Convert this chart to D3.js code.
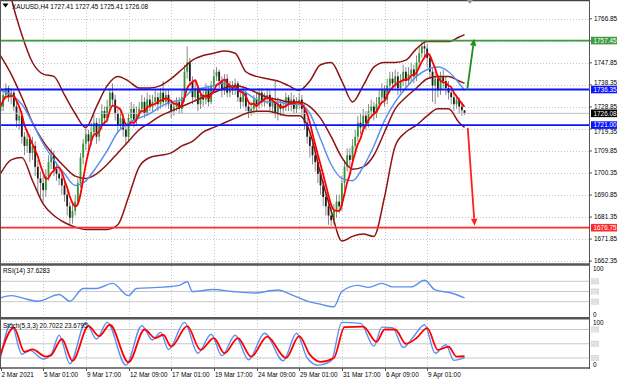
<!DOCTYPE html>
<html><head><meta charset="utf-8">
<script src="https://cdn.jsdelivr.net/npm/d3@7"></script>
<style>
body{margin:0;background:#fff}
svg{display:block}
text{font-family:"Liberation Sans",Arial,sans-serif;font-size:6.4px;fill:#000}
</style></head>
<body><svg id="c" width="620" height="383"></svg>
<script>
// ---------------- DATA ----------------
const symbolTitle = "XAUUSD,H4 1727.41 1727.45 1725.41 1726.08";
const rsiTitle = "RSI(14) 37.6283";
const stochTitle = "Stoch(5,3,3) 20.7022 23.6795";
const firstOpen = 1727;
const closes = [
1729,1734,1737,1733,
1735,1729,1723,1725,1716,1712,
1715,1709,1712,1703,1698,1696,
1693,1699,1705,1708,1702,1700,
1698,1695,1691,1686,1681,1684,
1688,1696,1707,1713,1717,1714,
1718,1722,1716,1721,1727,1724,
1729,1735,1732,1726,1721,1724,
1719,1716,1724,1728,1723,1726,
1728,1731,1726,1732,1729,1731,
1733,1730,1735,1731,1734,1730,
1727,1729,1731,1728,1733,1744,
1748,1740,1733,1737,1730,1734,
1732,1736,1731,1738,1742,1744,
1740,1736,1741,1735,1738,1736,
1739,1733,1731,1735,1729,1727,
1728,1732,1730,1735,1731,1733,
1734,1729,1731,1726,1730,1728,
1729,1733,1730,1732,1728,1731,
1732,1728,1722,1716,1712,1708,
1705,1700,1695,1690,1686,1682,
1680,1684,1688,1686,1696,1703,
1708,1706,1712,1716,1722,1720,
1725,1722,1727,1729,1726,1730,
1733,1736,1732,1738,1741,1739,
1742,1737,1740,1744,1740,1743,
1745,1742,1748,1752,1755,1754,
1750,1744,1738,1741,1736,1742,
1740,1737,1735,1733,1730,1732,
1729,1727.41,1726.08];
const highs = [
1733,1736,1739,1738,
1737,1736,1731,1728,1727,1718,
1719,1717,1716,1714,1706,1701,
1699,1702,1708,1711,1710,1705,
1703,1700,1697,1693,1688,1687,
1691,1698,1709,1715,1720,1719,
1722,1726,1724,1724,1730,1729,
1732,1737,1739,1734,1728,1727,
1726,1722,1726,1731,1730,1729,
1731,1734,1733,1735,1734,1734,
1736,1735,1737,1740,1736,1736,
1732,1731,1733,1733,1736,1747,
1755,1750,1742,1740,1738,1737,
1737,1739,1738,1740,1745,1746,
1745,1742,1743,1743,1740,1740,
1741,1740,1735,1737,1736,1731,
1731,1734,1735,1737,1737,1735,
1737,1736,1733,1740,1733,1732,
1732,1735,1734,1735,1734,1733,
1735,1734,1730,1724,1718,1714,
1711,1708,1702,1697,1692,1689,
1685,1687,1691,1691,1699,1706,
1711,1711,1715,1719,1725,1726,
1728,1727,1730,1732,1731,1733,
1736,1739,1738,1741,1744,1744,
1745,1744,1743,1747,1746,1746,
1748,1747,1751,1755,1757.8,1757.5,
1756,1752,1746,1744,1743,1744,
1745,1742,1740,1737,1735,1734,
1733,1731,1727.45];
const lows = [
1724,1727,1732,1731,
1730,1727,1720,1719,1713,1708,
1709,1705,1706,1699,1692,1690,
1688,1690,1697,1702,1699,1697,
1695,1691,1688,1682,1678,1678.5,
1682,1686,1694,1704,1710,1710,
1712,1716,1713,1714,1719,1721,
1722,1727,1729,1723,1718,1719,
1716,1713,1714,1722,1720,1721,
1724,1726,1724,1725,1727,1727,
1729,1727,1728,1729,1729,1728,
1724,1725,1727,1726,1726,1731,
1741,1738,1730,1731,1727,1728,
1729,1730,1729,1730,1736,1740,
1737,1733,1734,1733,1733,1734,
1734,1731,1728,1729,1727,1724,
1725,1726,1727,1728,1729,1729,
1730,1727,1726,1724,1723,1725,
1725,1727,1727,1727,1726,1726,
1728,1725,1719,1713,1707,1704,
1701,1696,1691,1686,1682,1678,
1677.5,1678,1681,1683,1684,1693,
1701,1703,1704,1710,1714,1717,
1718,1719,1720,1724,1723,1724,
1728,1731,1729,1730,1735,1736,
1737,1734,1735,1738,1737,1738,
1740,1739,1740,1746,1750,1750,
1746,1741,1731,1730,1733,1734,
1737,1734,1732,1730,1727,1728,
1726,1725,1725.41];

// indicator knots (bar index -> value)
const knotIdx = [0,4,8,12,16,20,24,28,32,36,40,44,48,52,56,60,64,68,72,76,80,84,88,92,96,100,104,108,112,116,120,124,128,132,136,140,144,148,152,156,160,164,168,172,174];
const bbUpper = [1800,1776,1760,1748,1743,1742,1734,1726,1720,1729,1738,1742,1740,1737,1737,1738,1741,1745,1749,1751,1752,1753,1752,1744,1742,1741,1740,1738,1736,1740,1747,1748,1740,1731,1738,1746,1748,1748,1749,1754,1757,1757,1757,1759,1760];
const bbMiddle = [1751,1743,1733,1722,1714,1708,1703,1699,1698,1700,1704,1709,1714,1719,1722,1725,1727,1729,1731,1733,1735,1737,1738,1737,1735,1733,1732,1731,1731,1729,1724,1716,1707,1702,1703,1708,1718,1728,1733,1737,1741,1742,1742,1740,1739];
const bbLower = [1700,1706,1707,1697,1687,1682,1679,1677,1676,1676,1676,1678,1690,1703,1707,1708,1709,1712,1714,1718,1720,1722,1724,1726,1727,1727,1726,1725,1725,1718,1700,1684,1671,1673,1674,1673,1690,1712,1718,1721,1725,1728,1728,1722,1720];
const maSlow = [1736,1734,1730,1722,1713,1706,1700,1695,1697,1703,1710,1718,1722,1724,1726,1729,1731,1732,1736,1737,1738,1739,1737,1735,1732,1731,1731,1730,1730,1726,1715,1704,1698,1697,1703,1712,1723,1731,1737,1742,1745,1746,1744,1739,1736];
const maFastPeriod = 5;

const rsiPts = [[0,37.5],[4,42],[8,37.5],[14,31],[22,44],[26,31],[31,56],[36,56],[42,66],[48,42],[51,56],[59,58],[67,62],[70,69],[72,50],[80,54],[87,50],[95,47],[104,53],[109,44],[115,31],[120,25],[125,20],[128,50],[134,62],[138,58],[143,66],[147,59],[154,59],[159,72],[163,53],[169,47],[174,37.63]];
const stochD = [[0,27],[5,84],[9,33],[12,38],[17,23],[19,26],[23,60],[27,14],[33,87],[37,66],[41,90],[48,11],[54,80],[58,62],[61,69],[64,44],[70,87],[75,37],[80,62],[84,30],[89,62],[94,23],[100,65],[107,20],[112,66],[116,27],[120,12],[125,20],[129,85],[136,86],[141,54],[144,80],[148,80],[152,50],[156,62],[160,83],[164,37],[168,44],[171,23],[174,23.68]];
const stochK = [[0,20],[4,93],[8,28],[11,36],[16,18],[19,28],[22,68],[26,8],[32,95],[36,60],[40,95],[47,5],[53,88],[57,58],[60,74],[63,38],[69,95],[74,30],[79,70],[83,25],[88,68],[93,16],[99,72],[106,14],[111,72],[115,20],[119,5],[124,14],[128,95],[135,93],[140,45],[143,85],[147,84],[151,42],[155,66],[159,90],[163,30],[167,48],[170,15],[174,20.70]];

const priceTicks = [1766.85,1757.35,1747.85,1738.35,1728.85,1719.35,1709.85,1700.35,1690.85,1681.35,1671.85,1662.35];
const timeLabels = ["2 Mar 2021","5 Mar 01:00","9 Mar 17:00","12 Mar 09:00","17 Mar 01:00","19 Mar 17:00","24 Mar 09:00","29 Mar 01:00","31 Mar 17:00","6 Apr 09:00","9 Apr 01:00"];
const timeLabelIdx = [0,16,32,48,64,80,96,112,128,144,160];
const levels = [{p:1757.45,c:"#3e9b3e"},{p:1736.35,c:"#0a14ff"},{p:1721.00,c:"#0a14ff"},{p:1676.75,c:"#ff2b2b"}];
const bidPrice = 1726.08;
const arrows = [{i0:175,p0:1736.3,i1:177.6,p1:1758.2,c:"#1f8f1f"},{i0:175.2,p0:1719.8,i1:177.8,p1:1677.6,c:"#ff2020"}];
const rsiLevels=[70,50,30], stochLevels=[80,50,20];

// ---------------- DRAW ----------------
const svg = d3.select("#c");
const plotR = 589;
const x = d3.scaleLinear().domain([0,160]).range([0.5,427.2]);
const yP = d3.scaleLinear().domain([1676.75,1736.35]).range([227.7,89.5]);
const yR = d3.scaleLinear().domain([0,100]).range([317,266]);
const yS = d3.scaleLinear().domain([0,100]).range([367.5,320]);

svg.append("rect").attr("width",620).attr("height",383).attr("fill","#fff");
const defs = svg.append("defs");
[["cm",0,1,plotR,263],["cr",0,266,plotR,51],["cs",0,320,plotR,47.5]].forEach(([id,a,b,w,h])=>{
  defs.append("clipPath").attr("id",id).append("rect").attr("x",a).attr("y",b).attr("width",w).attr("height",h);
});

// grid
const grid = svg.append("g");
timeLabelIdx.slice(1).forEach(i=>{
  [[1,263],[266,317],[320,367]].forEach(([a,b])=>{
    grid.append("line").attr("x1",Math.round(x(i))+0.5).attr("x2",Math.round(x(i))+0.5).attr("y1",a).attr("y2",b)
      .attr("stroke","#c4c4c4").attr("stroke-dasharray","1,2");
  });
});
priceTicks.forEach(p=>{
  grid.append("line").attr("x1",0).attr("x2",plotR).attr("y1",Math.round(yP(p))+0.5).attr("y2",Math.round(yP(p))+0.5)
    .attr("stroke","#c4c4c4").attr("stroke-dasharray","1,2");
});
rsiLevels.forEach(v=>grid.append("line").attr("x1",0).attr("x2",plotR).attr("y1",yR(v)).attr("y2",yR(v)).attr("stroke","#c8c8c8"));
stochLevels.forEach(v=>grid.append("line").attr("x1",0).attr("x2",plotR).attr("y1",yS(v)).attr("y2",yS(v)).attr("stroke","#c8c8c8"));

// candles
const main = svg.append("g").attr("clip-path","url(#cm)");
const bars = closes.map((c,i)=>({i,o:i?closes[i-1]:firstOpen,c,h:highs[i],l:lows[i]}));
main.selectAll("line.w").data(bars).join("line").attr("class","w")
  .attr("x1",d=>x(d.i)).attr("x2",d=>x(d.i)).attr("y1",d=>yP(d.h)).attr("y2",d=>yP(d.l))
  .attr("stroke","#8a8a8a").attr("stroke-width",1);
main.selectAll("rect.b").data(bars).join("rect").attr("class","b")
  .attr("x",d=>x(d.i)-0.9).attr("width",1.8)
  .attr("y",d=>yP(Math.max(d.o,d.c))).attr("height",d=>Math.max(1,Math.abs(yP(d.o)-yP(d.c))))
  .attr("fill",d=>d.c>=d.o?"#2f9a2f":"#1e1e1e");

// bid line
main.append("line").attr("x1",0).attr("x2",plotR).attr("y1",yP(bidPrice)).attr("y2",yP(bidPrice)).attr("stroke","#c0c0c0");

// indicators
const lineK = d3.line().x(d=>x(d[0])).y(d=>yP(d[1])).curve(d3.curveMonotoneX);
[bbUpper,bbMiddle,bbLower].forEach(arr=>{
  main.append("path").attr("d",lineK(knotIdx.map((k,j)=>[k,arr[j]]))).attr("fill","none").attr("stroke","#8e1414").attr("stroke-width",1.5);
});
main.append("path").attr("d",lineK(knotIdx.map((k,j)=>[k,maSlow[j]]))).attr("fill","none").attr("stroke","#5b8ff0").attr("stroke-width",1.5);
const fast = closes.map((c,i)=>{const s=closes.slice(Math.max(0,i-maFastPeriod+1),i+1);return [i,d3.mean(s)];});
main.append("path").attr("d",lineK(fast)).attr("fill","none").attr("stroke","#ff0000").attr("stroke-width",1.8);

// horizontal levels
levels.forEach(l=>{
  main.append("line").attr("x1",0).attr("x2",plotR).attr("y1",yP(l.p)).attr("y2",yP(l.p)).attr("stroke",l.c).attr("stroke-width",1.8);
});

// arrows
arrows.forEach(a=>{
  const x0=x(a.i0),y0=yP(a.p0),x1=x(a.i1),y1=yP(a.p1);
  const ang=Math.atan2(y1-y0,x1-x0), L=7, Wd=3.2;
  const bx=x1-L*Math.cos(ang), by=y1-L*Math.sin(ang);
  main.append("line").attr("x1",x0).attr("y1",y0).attr("x2",bx).attr("y2",by).attr("stroke",a.c).attr("stroke-width",1.8);
  main.append("path").attr("d",`M${x1},${y1}L${bx+Wd*Math.sin(ang)},${by-Wd*Math.cos(ang)}L${bx-Wd*Math.sin(ang)},${by+Wd*Math.cos(ang)}Z`).attr("fill",a.c);
});

// RSI
const gr = svg.append("g").attr("clip-path","url(#cr)");
gr.append("path").attr("d",d3.line().x(d=>x(d[0])).y(d=>yR(d[1])).curve(d3.curveMonotoneX)(rsiPts))
  .attr("fill","none").attr("stroke","#5b8ff0").attr("stroke-width",1.4);
// Stoch
const gs = svg.append("g").attr("clip-path","url(#cs)");
const ls = d3.line().x(d=>x(d[0])).y(d=>yS(d[1])).curve(d3.curveMonotoneX);
gs.append("path").attr("d",ls(stochK)).attr("fill","none").attr("stroke","#5b8ff0").attr("stroke-width",1.4);
gs.append("path").attr("d",ls(stochD)).attr("fill","none").attr("stroke","#ff0000").attr("stroke-width",1.8);

// frames
const fr = svg.append("g");
fr.append("line").attr("x1",0).attr("x2",plotR).attr("y1",0.5).attr("y2",0.5).attr("stroke","#444").attr("stroke-width",1.5);
fr.append("line").attr("x1",0).attr("x2",plotR).attr("y1",264.5).attr("y2",264.5).attr("stroke","#555").attr("stroke-width",2.5);
fr.append("line").attr("x1",0).attr("x2",plotR).attr("y1",318.3).attr("y2",318.3).attr("stroke","#555").attr("stroke-width",2.5);
fr.append("line").attr("x1",0).attr("x2",plotR).attr("y1",368).attr("y2",368).attr("stroke","#555").attr("stroke-width",1.5);
fr.append("line").attr("x1",plotR+0.5).attr("x2",plotR+0.5).attr("y1",0).attr("y2",369).attr("stroke","#555").attr("stroke-width",1);
fr.append("line").attr("x1",0.5).attr("x2",0.5).attr("y1",0).attr("y2",369).attr("stroke","#555").attr("stroke-width",1);

// shift marker
fr.append("path").attr("d",`M${x(176)-3},0L${x(176)+3},0L${x(176)},4Z`).attr("fill","#999");

// price axis
const ax = svg.append("g");
const boxes = [...levels.map(l=>({p:l.p,c:l.c})),{p:bidPrice,c:"#000"}];
const boxH = 7.6;
priceTicks.forEach(p=>{
  ax.append("line").attr("x1",plotR).attr("x2",plotR+3).attr("y1",yP(p)).attr("y2",yP(p)).attr("stroke","#555");
  let base = yP(p)+2.3;
  let hidden = false;
  boxes.forEach(b=>{
    const yb = yP(b.p), top = yb-boxH/2, bot = yb+boxH/2;
    if (Math.abs(yb-yP(p))<1.5) hidden = true;
    else if (yP(p)<yb && base>top-0.3) base = top-0.3;
    else if (yP(p)>yb && base-4.6<bot+0.3) base = bot+0.3+4.6;
  });
  if(!hidden) ax.append("text").attr("x",594).attr("y",base).text(p.toFixed(2));
});
boxes.forEach(b=>{
  ax.append("rect").attr("x",591).attr("y",yP(b.p)-boxH/2).attr("width",26).attr("height",boxH).attr("fill",b.c);
  ax.append("text").attr("x",593.5).attr("y",yP(b.p)+2.3).style("fill","#fff").text(b.p.toFixed(2));
});
// rsi / stoch axis
[[yR,rsiLevels],[yS,stochLevels]].forEach(([s,lv])=>{
  ax.append("text").attr("x",593).attr("y",s(100)+5).text("100");
  ax.append("text").attr("x",593).attr("y",s(0)-0.5).text("0");
  lv.forEach(v=>{
    ax.append("rect").attr("x",591).attr("y",s(v)-3).attr("width",8).attr("height",6).attr("fill","#dadada");
    ax.append("text").attr("x",592).attr("y",s(v)+2).style("fill","#f2f2f2").style("font-size","5px").text(v);
  });
});

// time axis
timeLabelIdx.forEach((i,k)=>{
  const xx=Math.round(x(i))+0.5;
  ax.append("line").attr("x1",xx).attr("x2",xx).attr("y1",368).attr("y2",371).attr("stroke","#555");
  ax.append("text").attr("x",xx+(k?0.5:0)).attr("y",377).text(timeLabels[k]);
});

// titles
svg.append("path").attr("d","M2.5,3.5L8.5,3.5L5.5,7.5Z").attr("fill","#000");
svg.append("text").attr("x",12).attr("y",8.5).text(symbolTitle);
svg.append("text").attr("x",3).attr("y",272.5).text(rsiTitle);
svg.append("text").attr("x",3).attr("y",328).text(stochTitle);
</script>
</body></html>
